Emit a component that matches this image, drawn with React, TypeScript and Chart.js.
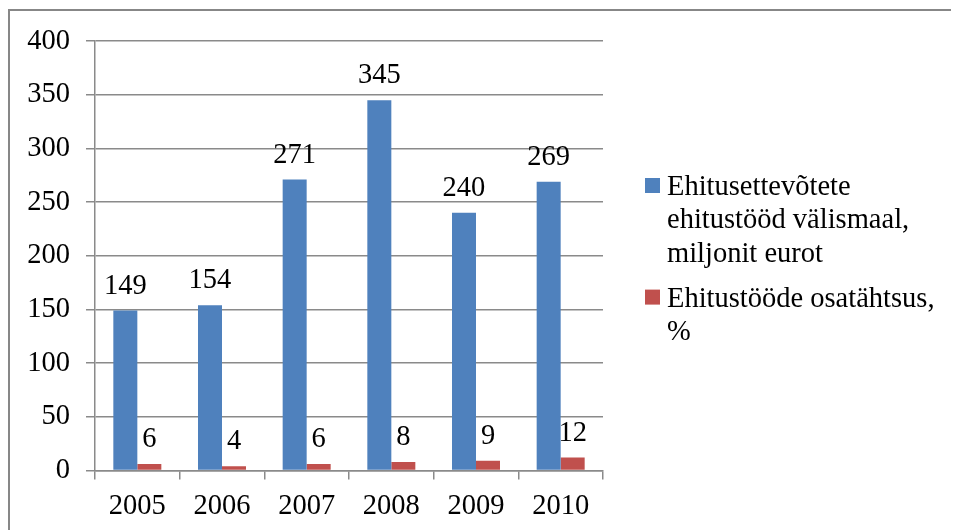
import React, { useEffect, useRef } from "react";
import { Chart, registerables } from "chart.js";

Chart.register(...registerables);

// Data
const years = ["2005", "2006", "2007", "2008", "2009", "2010"];
const worksAbroad = [149, 154, 271, 345, 240, 269];
const worksShare = [6, 4, 6, 8, 9, 12];
const worksAbroadLabel = ["Ehitusettevõtete", "ehitustööd välismaal,", "miljonit eurot"];
const worksShareLabel = ["Ehitustööde osatähtsus,", "%"];
const yMin = 0;
const yMax = 400;
const yStep = 50;

// Styles
const FONT_FAMILY = '"Liberation Serif", "Times New Roman", serif';
const FONT_SIZE = 28.5;
const BLUE = "#4F81BD";
const RED = "#C0504D";
const GRID = "#8a8a8a";
const FRAME = "#878787";

const W = 951;
const H = 522;

// Frame around the whole chart (left and top edges visible)
const framePlugin = {
  id: "frame",
  beforeDraw(chart: any) {
    const ctx = chart.ctx;
    ctx.save();
    ctx.fillStyle = "#ffffff";
    ctx.fillRect(0, 0, chart.width, chart.height);
    ctx.fillStyle = FRAME;
    ctx.fillRect(0, 1, 2, chart.height);
    ctx.fillRect(0, 1, chart.width, 2);
    ctx.restore();
  },
};

// Value labels above each bar
const valueLabelPlugin = {
  id: "valueLabels",
  afterDatasetsDraw(chart: any) {
    const ctx = chart.ctx;
    ctx.save();
    ctx.font = `${FONT_SIZE}px ${FONT_FAMILY}`;
    ctx.fillStyle = "#000";
    ctx.textAlign = "center";
    ctx.textBaseline = "alphabetic";
    chart.data.datasets.forEach((ds: any, di: number) => {
      const meta = chart.getDatasetMeta(di);
      meta.data.forEach((el: any, i: number) => {
        ctx.fillText(String(ds.data[i]), el.x, el.y - 17);
      });
    });
    ctx.restore();
  },
};

// Legend on the right with wrapped series names
const sideLegendPlugin = {
  id: "sideLegend",
  afterDraw(chart: any) {
    const ctx = chart.ctx;
    const boxSize = 15;
    const boxX = 637;
    const textX = 659;
    const lineH = 33.3;
    const itemGap = 45;
    let baseline = 187;
    ctx.save();
    ctx.font = `${FONT_SIZE}px ${FONT_FAMILY}`;
    ctx.textAlign = "left";
    ctx.textBaseline = "alphabetic";
    chart.data.datasets.forEach((ds: any) => {
      const lines: string[] = ds.legendLines;
      ctx.fillStyle = ds.backgroundColor;
      ctx.fillRect(boxX, baseline - 17, boxSize, boxSize);
      ctx.fillStyle = "#000";
      lines.forEach((line, li) => {
        ctx.fillText(line, textX, baseline + li * lineH);
      });
      baseline += (lines.length - 1) * lineH + itemGap;
    });
    ctx.restore();
  },
};

export default function App() {
  const canvasRef = useRef<HTMLCanvasElement | null>(null);

  useEffect(() => {
    document.documentElement.style.overflow = "hidden";
    document.body.style.overflow = "hidden";
    if (!canvasRef.current) return;
    const chart = new Chart(canvasRef.current, {
      type: "bar",
      data: {
        labels: years,
        datasets: [
          {
            label: worksAbroadLabel.join(" "),
            legendLines: worksAbroadLabel,
            data: worksAbroad,
            backgroundColor: BLUE,
            borderWidth: 0,
            categoryPercentage: 0.567,
            barPercentage: 1,
          } as any,
          {
            label: worksShareLabel.join(" "),
            legendLines: worksShareLabel,
            data: worksShare,
            backgroundColor: RED,
            borderWidth: 0,
            categoryPercentage: 0.567,
            barPercentage: 1,
          } as any,
        ],
      },
      options: {
        animation: false,
        responsive: false,
        maintainAspectRatio: false,
        devicePixelRatio: 1,
        layout: { padding: { top: 32, left: 0, right: 356, bottom: 0 } },
        plugins: {
          legend: { display: false },
          tooltip: { enabled: false },
        },
        scales: {
          x: {
            grid: {
              display: true,
              offset: true,
              drawOnChartArea: false,
              drawTicks: true,
              tickLength: 9,
              color: GRID,
              lineWidth: 1.5,
            },
            border: { display: true, color: GRID, width: 1.5 },
            ticks: {
              color: "#000",
              padding: 10,
              maxRotation: 0,
              font: { family: FONT_FAMILY, size: FONT_SIZE },
            },
            afterFit(scale: any) {
              scale.height = 59.5;
            },
          },
          y: {
            min: yMin,
            max: yMax,
            grid: {
              display: true,
              drawTicks: true,
              tickLength: 9,
              color: GRID,
              lineWidth: 1.5,
            },
            border: { display: true, color: GRID, width: 1.5 },
            ticks: {
              stepSize: yStep,
              color: "#000",
              padding: 16,
              font: { family: FONT_FAMILY, size: FONT_SIZE },
            },
            afterFit(scale: any) {
              scale.width = 87;
            },
          },
        },
      },
      plugins: [framePlugin, valueLabelPlugin, sideLegendPlugin],
    });
    return () => chart.destroy();
  }, []);

  return (
    <div style={{ width: W, height: H, position: "relative", overflow: "hidden" }}>
      <canvas ref={canvasRef} width={W} height={H} style={{ display: "block", width: W, height: H }} />
    </div>
  );
}
